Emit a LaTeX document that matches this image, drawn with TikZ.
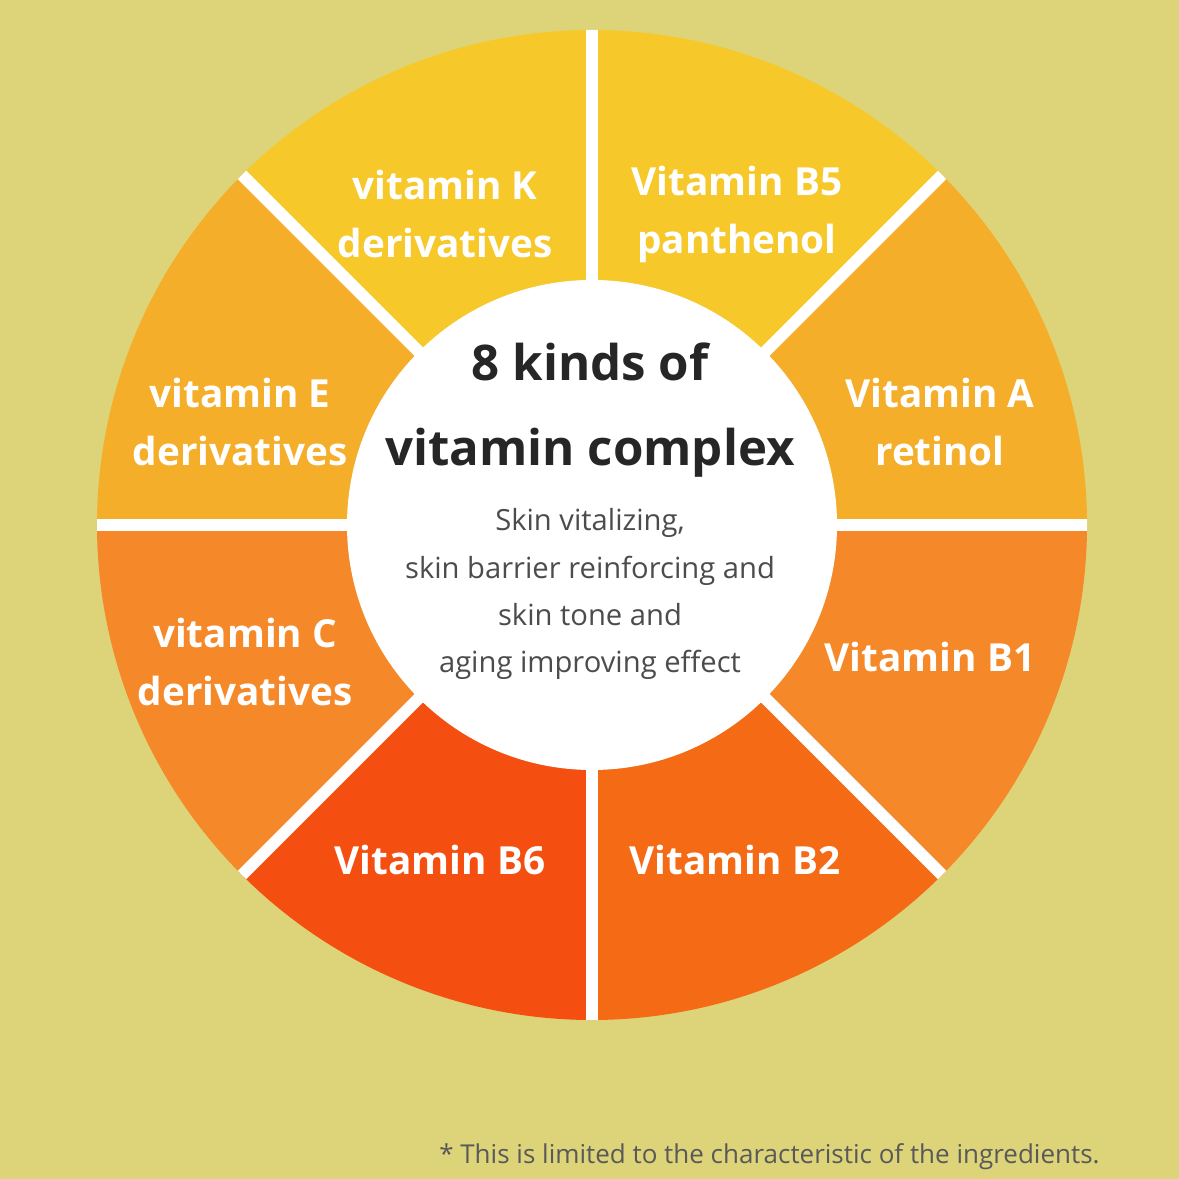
\documentclass[tikz,border=0pt]{standalone}
\usepackage{fontspec}
\setmainfont{Open Sans}
\definecolor{bg}{HTML}{DDD47A}
\definecolor{yel}{HTML}{F7C82A}
\definecolor{oyel}{HTML}{F5AE2A}
\definecolor{ora}{HTML}{F5892A}
\definecolor{ored}{HTML}{F46A15}
\definecolor{red}{HTML}{F44E10}
\tikzset{
  seglabel/.style = {text = white, font = \bfseries\fontsize{11}{16.5}\selectfont, align = center},
  sublabel/.style = {text = black!70, font = \fontsize{8.3}{13.4}\selectfont, align = center},
  separator/.style = {draw = white, line width = 1.2mm}
}
\begin{document}
\begin{tikzpicture}
  \fill[bg] (0,0) rectangle (11.79,11.79);
  \useasboundingbox (0,0) rectangle (11.79,11.79);
  \coordinate (c) at (5.92,6.54);
  % wheel segments
  \foreach \a/\col in {0/oyel,45/yel,90/yel,135/oyel,180/ora,225/red,270/ored,315/ora}
    \fill[\col] (c) -- ++(\a:4.95) arc[start angle=\a, end angle=\a+45, radius=4.95] -- cycle;
  \begin{scope}
    \clip (c) circle[radius=4.95];
    \foreach \a in {0,45,...,315}
      \draw[separator] (c) -- ++(\a:5.0);
  \end{scope}
  \node[circle, fill = white, minimum size = 4.9cm] (hub) at (c) {};
  % labels
  \node[seglabel] (vk) at (4.45,9.65) {vitamin K\\derivatives};
  \node[seglabel] (vb5) at (7.37,9.65) {Vitamin B5\\panthenol};
  \node[seglabel] (va) at (9.40,7.57) {Vitamin A\\retinol};
  \node[seglabel] (vb1) at (9.30,5.22) {Vitamin B1};
  \node[seglabel] (vb2) at (7.35,3.19) {Vitamin B2};
  \node[seglabel] (vb6) at (4.40,3.19) {Vitamin B6};
  \node[seglabel] (vc) at (2.45,5.17) {vitamin C\\derivatives};
  \node[seglabel] (ve) at (2.40,7.57) {vitamin E\\derivatives};
  \node[text = black!85, font = \bfseries\fontsize{14}{24}\selectfont, align = center] (title) at (5.90,7.69) {8 kinds of\\vitamin complex};
  \node[sublabel] (sub) at (5.90,5.85) {Skin vitalizing,\\skin barrier reinforcing and\\skin tone and\\aging improving effect};
  \node[text = black!65, font = \fontsize{7.4}{10}\selectfont, anchor = east] (note) at (11.12,0.22) {* This is limited to the characteristic of the ingredients.};
\end{tikzpicture}
\end{document}
